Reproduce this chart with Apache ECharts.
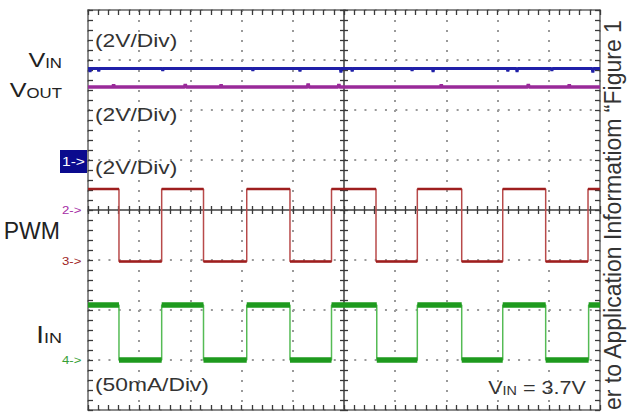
<!DOCTYPE html>
<html><head><meta charset="utf-8">
<script src="https://cdn.jsdelivr.net/npm/echarts@6/dist/echarts.min.js"></script>
<style>html,body{margin:0;padding:0;background:#fff}#c{width:628px;height:412px}</style>
</head><body><div id="c"></div>
<script>
// ---- data (screen divisions) ----
const xRange = [0, 10];          // 10 horizontal divisions
const yRange = [-4, 4];          // 8 vertical divisions
const vinLevel = 2.83;           // V_IN trace (div)
const voutLevel = 2.46;          // V_OUT trace (div)
const pwmLevels = [0.42, -1.03]; // PWM high / low (div)
const iinLevels = [-1.9, -3.0];  // I_IN high / low (div)
// switching edges (div): fall, rise, fall, rise ...
const pwmEdges = [0.605, 1.439, 2.256, 3.100, 3.945, 4.756, 5.625, 6.432, 7.299, 8.100, 8.939, 9.766];
const iinEdges = [0.605, 1.439, 2.256, 3.100, 3.945, 4.756, 5.640, 6.432, 7.299, 8.100, 8.939, 9.778];
// small glitches seen on the traces [x (div), deviation (div)]
const vinGlitches = [[0.04,-0.07],[0.21,-0.06],[1.46,-0.05],[3.22,-0.05],[4.14,-0.06],[4.94,-0.08],[5.16,-0.06],[6.33,-0.05],[6.74,-0.07],[8.20,-0.06],[8.38,-0.07],[9.06,-0.05],[9.86,-0.08]];
const voutGlitches = [[0.5,0.05],[1.9,0.06],[2.6,0.05],[4.3,0.07],[4.9,0.06],[6.9,0.05],[8.6,0.06],[9.4,0.05]];
const labelsLeft = ['V', 'IN', 'V', 'OUT', 'PWM', 'I', 'IN'];
const markers = ['1->', '2->', '3->', '4->'];
const scaleTexts = ['(2V/Div)', '(2V/Div)', '(2V/Div)', '(50mA/Div)'];
const vinNote = ['V', 'IN', ' = 3.7V'];
const sideNote = 'er to Application Informatiom \u201CFigure 1';

// ---- builders ----
function flatWithGlitches(level, glitches) {
  const d = [[xRange[0], level]];
  glitches.forEach(g => { d.push([g[0] - 0.012, level], [g[0], level + g[1]], [g[0] + 0.012, level]); });
  d.push([xRange[1], level]);
  return d;
}
function stepLine(edges, levels) {
  let cur = 0; const d = [[xRange[0], levels[cur]]];
  edges.forEach(e => { d.push([e, levels[cur]]); cur = 1 - cur; d.push([e, levels[cur]]); });
  d.push([xRange[1], levels[cur]]);
  return d;
}
function stepLevels(edges, levels) {
  let cur = 0, start = xRange[0]; const d = [];
  edges.forEach(e => { d.push([start, levels[cur]], [e, levels[cur]], [e, null]); cur = 1 - cur; start = e; });
  d.push([start, levels[cur]], [xRange[1], levels[cur]]);
  return d;
}

const AX = '#3a3a3a';
function axis(dim, position, offset, tickLen, split) {
  const isX = dim === 'x';
  return {
    type: 'value', min: isX ? xRange[0] : yRange[0], max: isX ? xRange[1] : yRange[1], interval: 1,
    position, offset, silent: true, z: 3,
    axisLine: { show: true, onZero: false, lineStyle: { color: '#666', width: 1.5 } },
    axisTick: { show: true, inside: true, length: tickLen, lineStyle: { color: AX, width: 1.3 } },
    minorTick: { show: true, splitNumber: 5, length: tickLen, lineStyle: { color: AX, width: 1.3 } },
    axisLabel: { show: false },
    splitLine: split ? { show: true, lineStyle: { color: '#9a9a9a', width: 2, type: isX ? [2, 8] : [2, 8.24] } } : { show: false },
    minorSplitLine: { show: false }
  };
}

const FONT = 'Liberation Sans, Arial, sans-serif';
const SX = 1.2; // horizontal stretch of the reference lettering
function rt(x, y, text, rich, align, sx) {
  return { type: 'text', x, y, z: 100, scaleX: sx || SX, style: { text, rich, align: align || 'right', textAlign: align || 'right', verticalAlign: 'bottom', textVerticalAlign: 'bottom' } };
}
function tok(size, color) { return { font: size + 'px ' + FONT, fill: color || '#222', verticalAlign: 'bottom', lineHeight: size }; }
function plain(x, y, text, size, color, align, sx) {
  return { type: 'text', x, y, z: 100, scaleX: sx || SX, style: { text, font: size + 'px ' + FONT, fill: color, align: align || 'left', textAlign: align || 'left', verticalAlign: 'middle', textVerticalAlign: 'middle' } };
}

const graphic = [
  rt(62, 70, '{a|' + labelsLeft[0] + '}{b|' + labelsLeft[1] + '}', { a: tok(21), b: tok(14) }),
  rt(62, 100, '{a|' + labelsLeft[2] + '}{b|' + labelsLeft[3] + '}', { a: tok(21), b: tok(14) }),
  plain(60, 231, labelsLeft[4], 23, '#222', 'right', 1),
  rt(62, 346, '{a|' + labelsLeft[5] + '}{b|' + labelsLeft[6] + '}', { a: tok(23), b: tok(15) }),
  { type: 'rect', shape: { x: 60, y: 150, width: 27, height: 23 }, style: { fill: '#0b0b8e' }, z: 99 },
  plain(62, 161, markers[0], 13, '#ffffff'),
  plain(62, 210, markers[1], 11, '#a62ea6'),
  plain(62, 261, markers[2], 11, '#a02424'),
  plain(62, 360, markers[3], 11, '#35a035'),
  plain(95, 40, scaleTexts[0], 19, '#333'),
  plain(95, 114, scaleTexts[1], 19, '#333'),
  plain(95, 167, scaleTexts[2], 19, '#333'),
  plain(95, 384, scaleTexts[3], 19, '#333'),
  rt(586, 397, '{a|' + vinNote[0] + '}{b|' + vinNote[1] + '}{a|' + vinNote[2] + '}', { a: tok(18, '#333'), b: tok(12, '#333') }),
  { type: 'text', x: 613, y: 410, rotation: Math.PI / 2, z: 100,
    style: { text: sideNote, font: '23px ' + FONT, fill: '#333', align: 'left', textAlign: 'left', verticalAlign: 'middle', textVerticalAlign: 'middle' } }
];

const chart = echarts.init(document.getElementById('c'), null, { renderer: 'svg', width: 628, height: 412 });
chart.setOption({
  backgroundColor: '#ffffff',
  animation: false,
  grid: { left: 88, right: 28, top: 10, bottom: 2 },
  xAxis: [
    axis('x', 'bottom', 0, 5, true),
    axis('x', 'top', 0, 5, false),
    axis('x', 'top', -200, 4, false),
    axis('x', 'bottom', -200, 4, false)
  ],
  yAxis: [
    axis('y', 'left', 0, 5, true),
    axis('y', 'right', 0, 5, false),
    axis('y', 'left', -256, 4, false),
    axis('y', 'right', -256, 4, false)
  ],
  series: [
    { name: 'VIN', type: 'line', data: flatWithGlitches(vinLevel, vinGlitches), showSymbol: false, lineStyle: { color: '#1f1fa8', width: 3 }, z: 5 },
    { name: 'VOUT', type: 'line', data: flatWithGlitches(voutLevel, voutGlitches), showSymbol: false, lineStyle: { color: '#992a99', width: 3.5 }, z: 5 },
    { name: 'PWM edges', type: 'line', data: stepLine(pwmEdges, pwmLevels), showSymbol: false, lineStyle: { color: '#b84a4a', width: 1.5 }, z: 5 },
    { name: 'PWM', type: 'line', data: stepLevels(pwmEdges, pwmLevels), showSymbol: false, connectNulls: false, lineStyle: { color: '#9e1e1e', width: 2.5 }, z: 6 },
    { name: 'IIN edges', type: 'line', data: stepLine(iinEdges, iinLevels), showSymbol: false, lineStyle: { color: '#55bb55', width: 1.5 }, z: 5 },
    { name: 'IIN', type: 'line', data: stepLevels(iinEdges, iinLevels), showSymbol: false, connectNulls: false, lineStyle: { color: '#1e9a1e', width: 5.5 }, z: 6 }
  ],
  graphic
});
</script></body></html>
